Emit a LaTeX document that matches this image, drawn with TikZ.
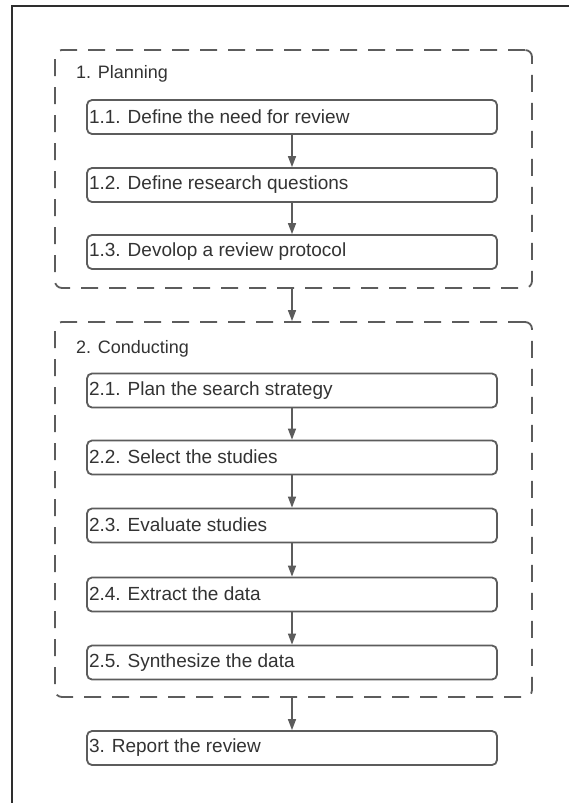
\documentclass[tikz,border=0pt]{standalone}
\usepackage{fontspec}
\setmainfont{Liberation Sans}
\usetikzlibrary{arrows.meta}
\definecolor{linegray}{HTML}{5C5C5C}
\definecolor{textgray}{HTML}{333333}
\definecolor{framegray}{HTML}{2E2E2E}
\tikzset{
  stepbox/.style={draw=linegray, line width=1.8pt, rounded corners=5pt, minimum width=410pt, minimum height=34pt, inner sep=0pt, text=textgray, font=\fontsize{19}{21}\selectfont},
  phasebox/.style={draw=linegray, line width=1.8pt, rounded corners=7pt, dash pattern=on 17pt off 11pt, minimum width=477pt, inner sep=0pt},
  phaselabel/.style={anchor=west, text=textgray, font=\fontsize{18}{20}\selectfont, inner sep=0pt},
  flow/.style={draw=linegray, line width=1.4pt, -{Triangle[length=11pt,width=8pt]}},
}
\newcommand{\boxtext}[1]{\makebox[406pt][l]{\raisebox{1pt}{#1}}}
\begin{document}
\begin{tikzpicture}[x=1pt,y=-1pt]
\useasboundingbox (0,0) rectangle (569,803);
\fill[white] (0,0) rectangle (569,803);
% outer frame (top and left edges)
\draw[framegray, line width=1.2pt] (12,803) -- (12,6) -- (569,6);

% phase containers
\node[phasebox, minimum height=238pt] (plan) at (293.5,169) {};
\node[phasebox, minimum height=375pt] (cond) at (293.5,509.5) {};

\node[phaselabel] (planlab) at (76,74) {1. Planning};
\node[phaselabel] (condlab) at (76,349) {2. Conducting};

% steps
\node[stepbox] (s11) at (292,117) {\boxtext{1.1. Define the need for review}};
\node[stepbox] (s12) at (292,185) {\boxtext{1.2. Define research questions}};
\node[stepbox] (s13) at (292,252) {\boxtext{1.3. Devolop a review protocol}};

\node[stepbox] (s21) at (292,390.5) {\boxtext{2.1. Plan the search strategy}};
\node[stepbox] (s22) at (292,457.5) {\boxtext{2.2. Select the studies}};
\node[stepbox] (s23) at (292,525.5) {\boxtext{2.3. Evaluate studies}};
\node[stepbox] (s24) at (292,594.5) {\boxtext{2.4. Extract the data}};
\node[stepbox] (s25) at (292,662.5) {\boxtext{2.5. Synthesize the data}};

\node[stepbox] (s3) at (292,748) {\boxtext{3. Report the review}};

% connectors
\draw[flow] (s11.south) -- (s12.north);
\draw[flow] (s12.south) -- (s13.north);
\draw[flow] (s11.south |- plan.south) -- (s11.south |- cond.north);
\draw[flow] (s21.south) -- (s22.north);
\draw[flow] (s22.south) -- (s23.north);
\draw[flow] (s23.south) -- (s24.north);
\draw[flow] (s24.south) -- (s25.north);
\draw[flow] (s25.south |- cond.south) -- (s3.north);
\end{tikzpicture}
\end{document}
